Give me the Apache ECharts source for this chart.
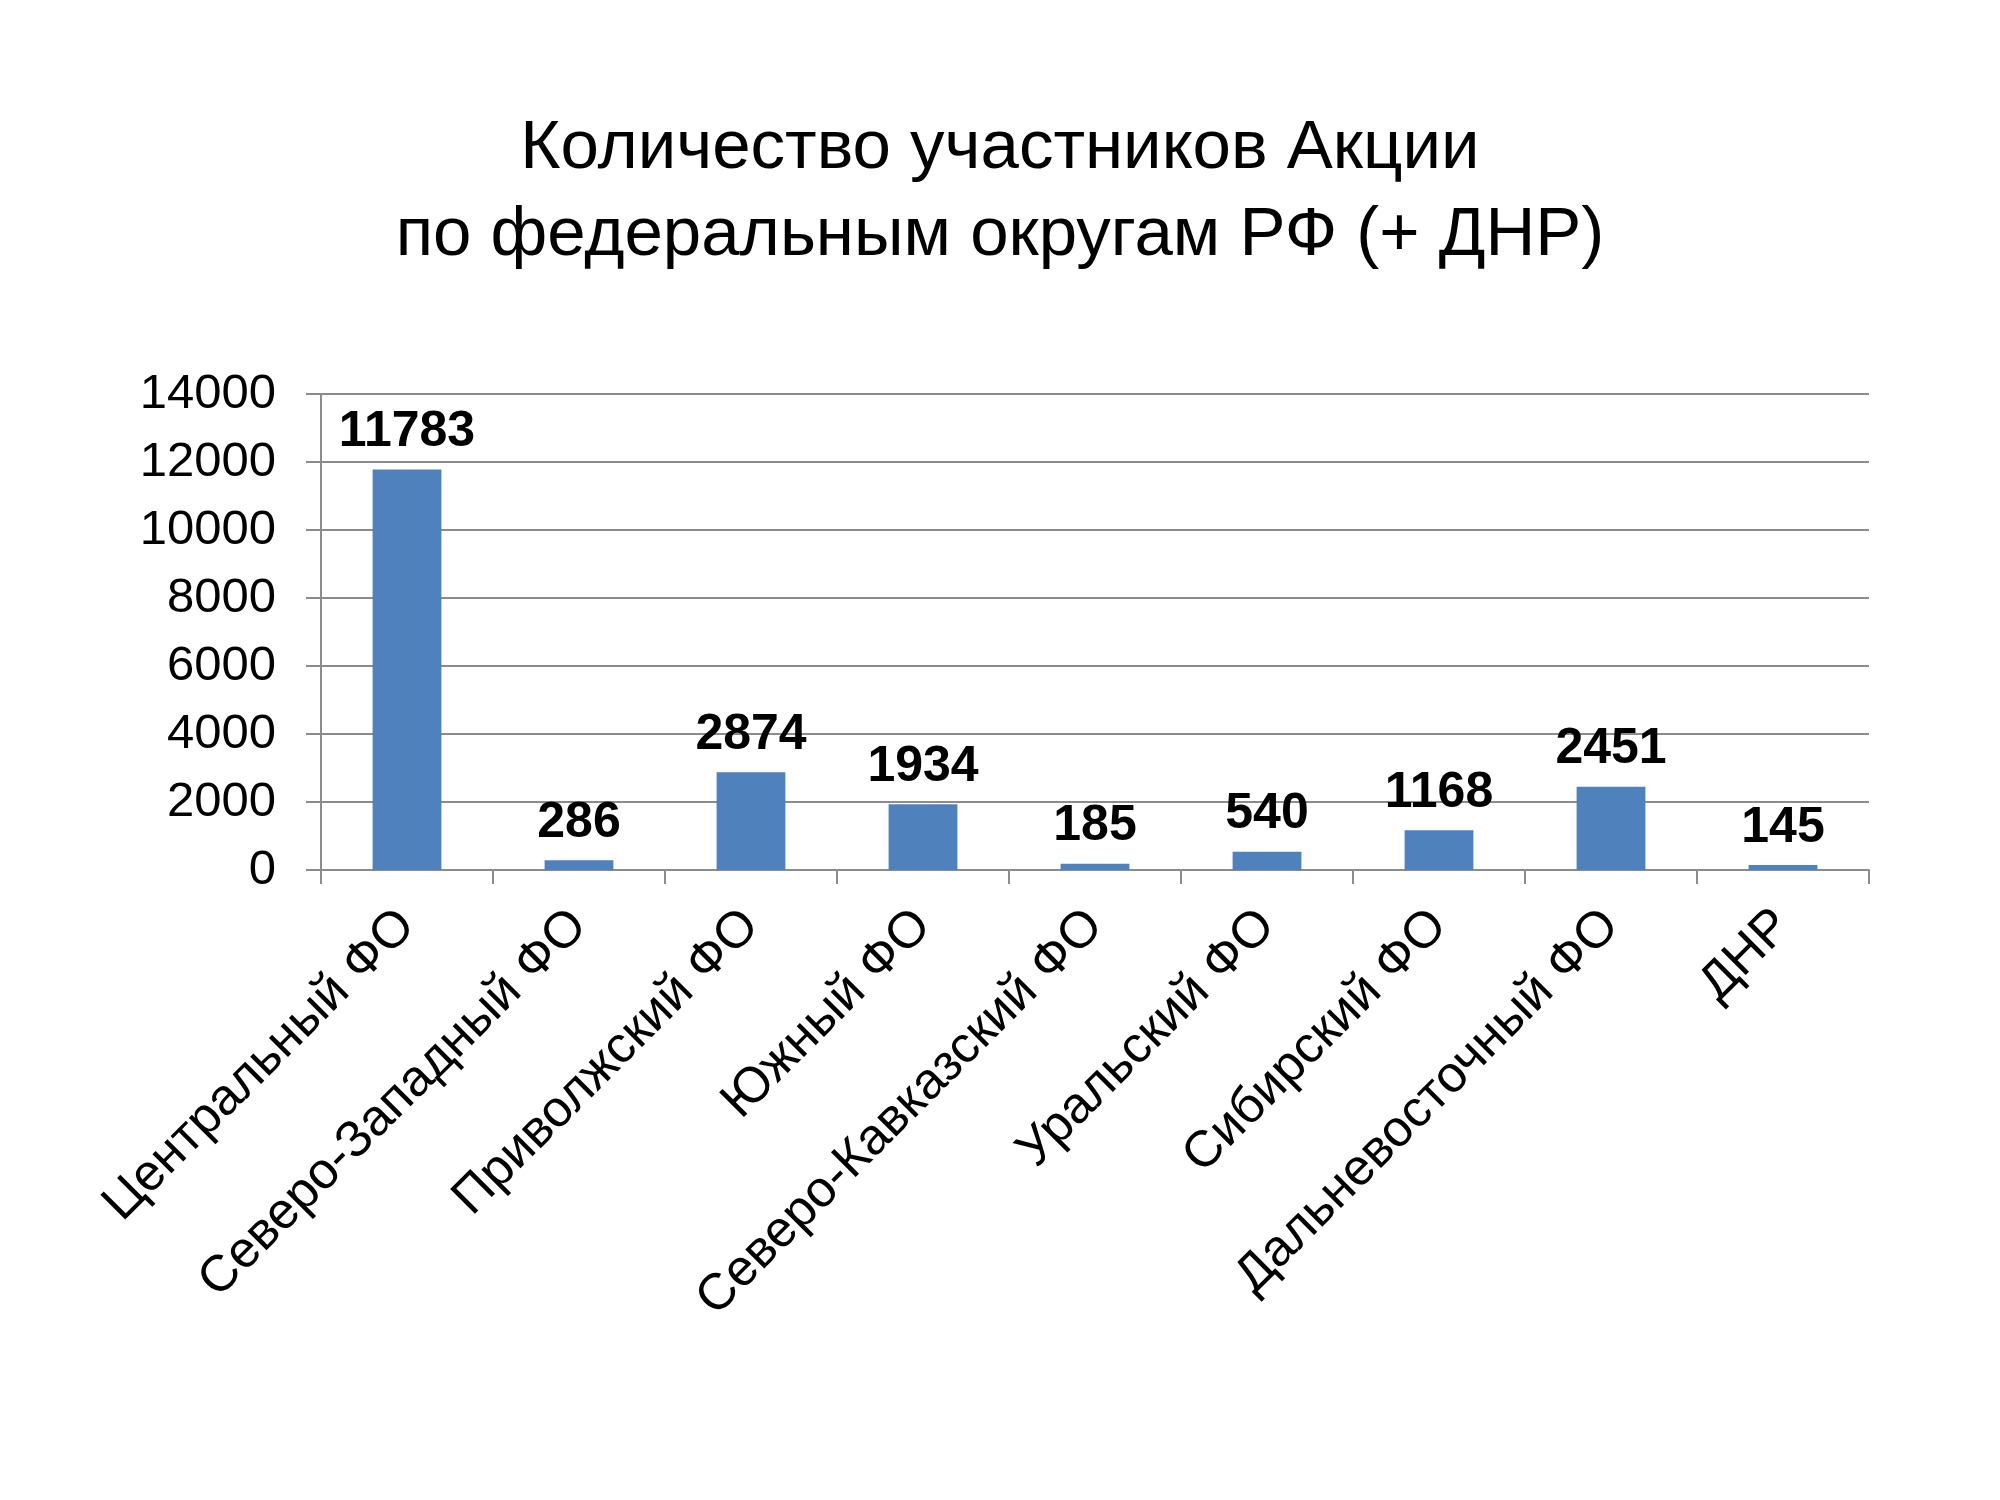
<!DOCTYPE html>
<html>
<head>
<meta charset="utf-8">
<script src="https://cdn.jsdelivr.net/npm/echarts@6/dist/echarts.min.js"></script>
<style>
html,body{margin:0;padding:0;background:#fff;}
#chart{width:2000px;height:1500px;}
</style>
</head>
<body>
<div id="chart"></div>
<script>
const titleLines = ['Количество участников Акции', 'по федеральным округам РФ (+ ДНР)'];
const categories = ['Центральный ФО', 'Северо-Западный ФО', 'Приволжский ФО', 'Южный ФО', 'Северо-Кавказский ФО', 'Уральский ФО', 'Сибирский ФО', 'Дальневосточный ФО', 'ДНР'];
const values = [11783, 286, 2874, 1934, 185, 540, 1168, 2451, 145];
const yMin = 0, yMax = 14000, yStep = 2000;

const chart = echarts.init(document.getElementById('chart'));
const font = 'Liberation Sans, Arial, Helvetica, sans-serif';
chart.setOption({
  backgroundColor: '#ffffff',
  animation: false,
  title: {
    text: titleLines.join('\n'),
    left: 'center',
    top: 100,
    textStyle: { fontFamily: font, fontSize: 69, fontWeight: 'normal', color: '#000', lineHeight: 87 }
  },
  grid: { left: 321, right: 131, top: 394, bottom: 630, containLabel: false },
  xAxis: {
    type: 'category',
    data: categories,
    boundaryGap: true,
    axisLine: { show: true, lineStyle: { color: '#8c8c8c', width: 2 } },
    axisTick: { show: true, alignWithLabel: false, length: 14, lineStyle: { color: '#8c8c8c', width: 2 } },
    axisLabel: { interval: 0, rotate: 45, margin: 48, fontFamily: font, fontSize: 51, color: '#000' },
    splitLine: { show: false }
  },
  yAxis: {
    type: 'value',
    min: yMin, max: yMax, interval: yStep,
    axisLine: { show: true, lineStyle: { color: '#8c8c8c', width: 2 } },
    axisTick: { show: true, inside: false, length: 15, lineStyle: { color: '#8c8c8c', width: 2 } },
    axisLabel: { margin: 45, fontFamily: font, fontSize: 49, color: '#000', formatter: v => String(v) },
    splitLine: { show: true, lineStyle: { color: '#8c8c8c', width: 2 } }
  },
  series: [{
    type: 'bar',
    data: values,
    barWidth: '40%',
    itemStyle: { color: '#4f81bd' },
    label: { show: true, position: 'top', distance: 12, fontFamily: font, fontSize: 50, fontWeight: 'bold', color: '#000' }
  }]
});
</script>
</body>
</html>
